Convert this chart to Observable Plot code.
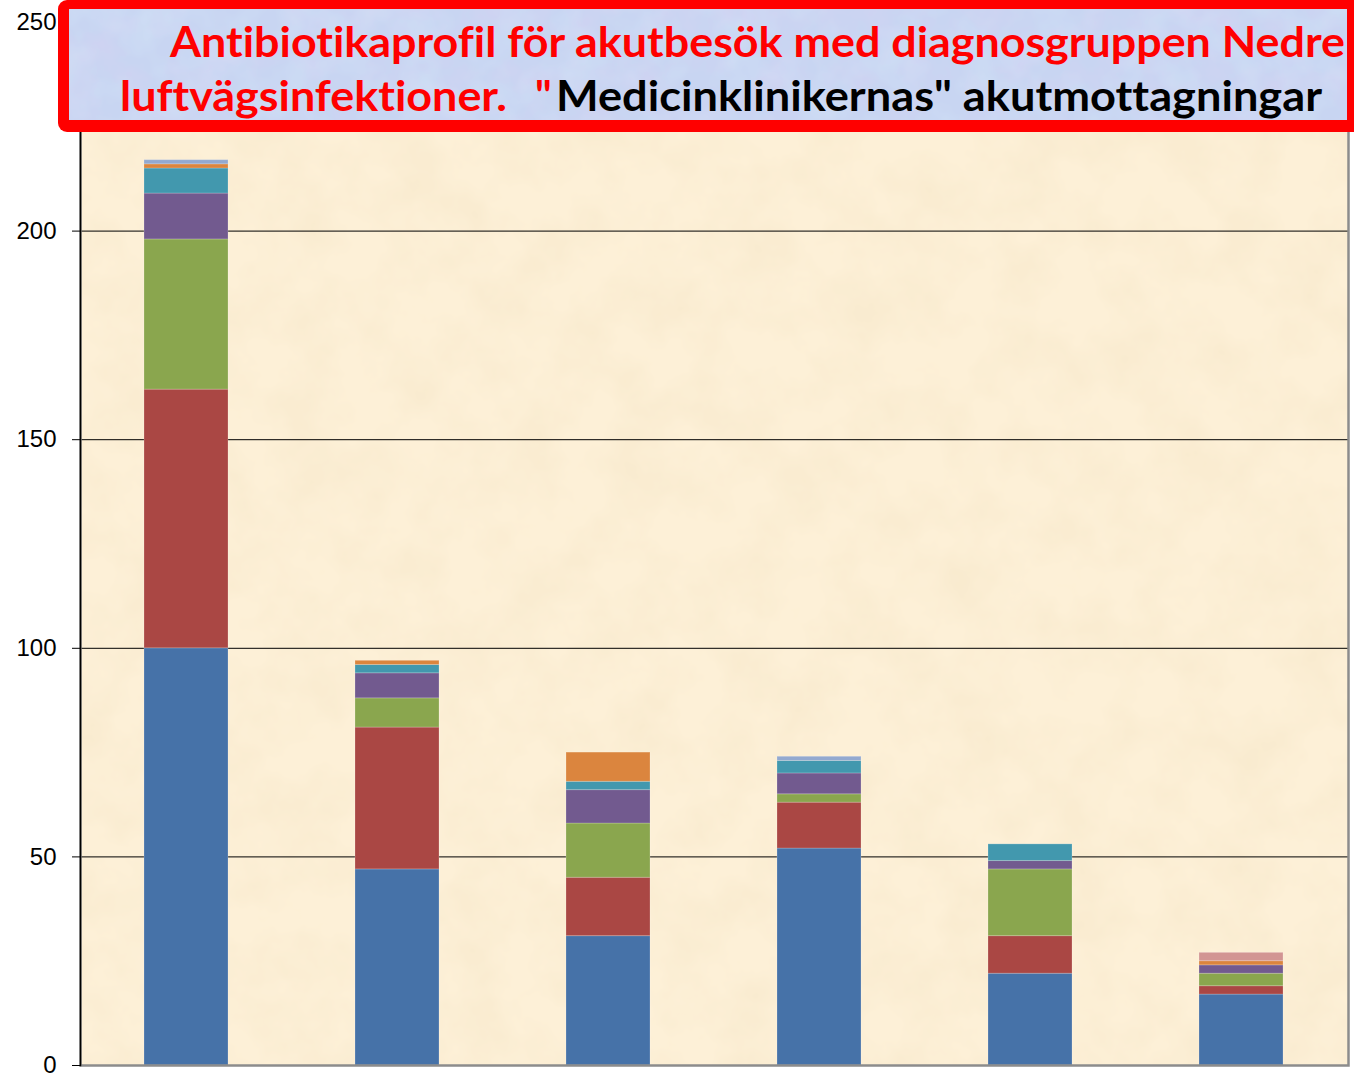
<!DOCTYPE html>
<html>
<head>
<meta charset="utf-8">
<script src="https://cdn.jsdelivr.net/npm/d3@7"></script>
<script src="https://cdn.jsdelivr.net/npm/@observablehq/plot@0.6"></script>
<style>
  html, body { margin: 0; padding: 0; background: #ffffff; }
  #wrap { position: relative; width: 1354px; height: 1074px; overflow: hidden; }
  #wrap > svg, #wrap > div { position: absolute; left: 0; top: 0; }
  #title text { font-variant-ligatures: none; font-feature-settings: "liga" 0, "clig" 0; }
</style>
</head>
<body>
<div id="wrap">
  <svg id="under" width="1354" height="1074">
    <defs>
      <filter id="parch" x="0" y="0" width="100%" height="100%">
        <feTurbulence type="fractalNoise" baseFrequency="0.018" numOctaves="4" seed="7" result="n"/>
        <feColorMatrix in="n" type="matrix" values="0 0 0 0 0.80  0 0 0 0 0.66  0 0 0 0 0.42  0.35 0 0 0 -0.12"/>
      </filter>
    </defs>
    <rect x="80" y="22" width="1268" height="1043" fill="#FDF0D7"/>
    <rect x="80" y="22" width="1268" height="1043" filter="url(#parch)"/>
  </svg>
  <div id="plot"></div>
  <svg id="title" width="1354" height="140">
    <defs>
      <filter id="bluetex" x="0" y="0" width="100%" height="100%">
        <feTurbulence type="fractalNoise" baseFrequency="0.03" numOctaves="4" seed="3" result="n"/>
        <feColorMatrix in="n" type="matrix" values="0 0 0 0 0.72  0 0 0 0 0.62  0 0 0 0 0.90  0 0.6 0 0 -0.22"/>
      </filter>
      <filter id="bluetex2" x="0" y="0" width="100%" height="100%">
        <feTurbulence type="fractalNoise" baseFrequency="0.025" numOctaves="3" seed="11" result="n"/>
        <feColorMatrix in="n" type="matrix" values="0 0 0 0 0.70  0 0 0 0 0.88  0 0 0 0 0.95  0 0 0.6 0 -0.24"/>
      </filter>
    </defs>
    <rect x="58" y="0" width="1310" height="132" rx="9" ry="9" fill="#FF0000"/>
    <rect x="69" y="9" width="1278" height="111" fill="#C8D5F2"/>
    <rect x="69" y="9" width="1278" height="111" filter="url(#bluetex)"/>
    <rect x="69" y="9" width="1278" height="111" filter="url(#bluetex2)"/>
    <g font-family="Lato, 'Open Sans', sans-serif" font-weight="bold" font-size="42">
      <text x="170" y="57" fill="#FF0000" textLength="1175" lengthAdjust="spacingAndGlyphs">Antibiotikaprofil för akutbesök med diagnosgruppen Nedre</text>
      <text x="120" y="111" fill="#FF0000" textLength="387" lengthAdjust="spacingAndGlyphs">luftvägsinfektioner.</text>
      <text x="535" y="111" fill="#FF0000">"</text>
      <text x="556" y="111" fill="#000000" textLength="766" lengthAdjust="spacingAndGlyphs">Medicinklinikernas" akutmottagningar</text>
    </g>
  </svg>
</div>
<script>
// Categories (unlabelled in the original chart)
const categories = ["Sjukhus 1", "Sjukhus 2", "Sjukhus 3", "Sjukhus 4", "Sjukhus 5", "Sjukhus 6"];
// Series, bottom to top of each stack
const seriesNames = ["Serie 1", "Serie 2", "Serie 3", "Serie 4", "Serie 5", "Serie 6", "Serie 7", "Serie 8"];
const seriesColors = ["#4672A8", "#AA4744", "#8AA64E", "#725A8F", "#4298AE", "#DB853E", "#93A9D0", "#D29593"];
// Values per series, one per category
const serie1 = [100, 47, 31, 52, 22, 17];
const serie2 = [62, 34, 14, 11, 9, 2];
const serie3 = [36, 7, 13, 2, 16, 3];
const serie4 = [11, 6, 8, 5, 2, 2];
const serie5 = [6, 2, 2, 3, 4, 0];
const serie6 = [1, 1, 7, 0, 0, 1];
const serie7 = [1, 0, 0, 1, 0, 0];
const serie8 = [0, 0, 0, 0, 0, 2];
const yTicks = [0, 50, 100, 150, 200, 250];
const gridTicks = [50, 100, 150, 200];

const allSeries = [serie1, serie2, serie3, serie4, serie5, serie6, serie7, serie8];
const data = [];
allSeries.forEach((vals, si) => {
  vals.forEach((v, ci) => data.push({cat: categories[ci], series: seriesNames[si], value: v}));
});

const chart = Plot.plot({
  width: 1354,
  height: 1074,
  marginLeft: 80,
  marginRight: 6,
  marginTop: 22,
  marginBottom: 9,
  style: {background: "transparent", overflow: "visible", fontFamily: "'Liberation Sans', Arial, sans-serif"},
  x: {domain: categories, paddingInner: 0.6, paddingOuter: 0.3, axis: null},
  y: {domain: [0, 250], axis: null},
  color: {domain: seriesNames, range: seriesColors},
  marks: [
    Plot.gridY(gridTicks, {stroke: "#000000", strokeOpacity: 1, strokeWidth: 1}),
    Plot.barY(data, {x: "cat", y: "value", fill: "series", order: seriesNames, stroke: "#ffffff", strokeOpacity: 0.2, strokeWidth: 1}),
    Plot.frame({stroke: "#8c8c8c", strokeWidth: 2.5}),
    Plot.frame({anchor: "left", stroke: "#000000", strokeWidth: 1.5}),
    Plot.axisY({ticks: yTicks, label: null, tickSize: 8, tickPadding: 16, fontSize: 24, color: "#000000", stroke: "#000000", fill: "#000000"})
  ]
});
document.getElementById("plot").appendChild(chart);
</script>
</body>
</html>
